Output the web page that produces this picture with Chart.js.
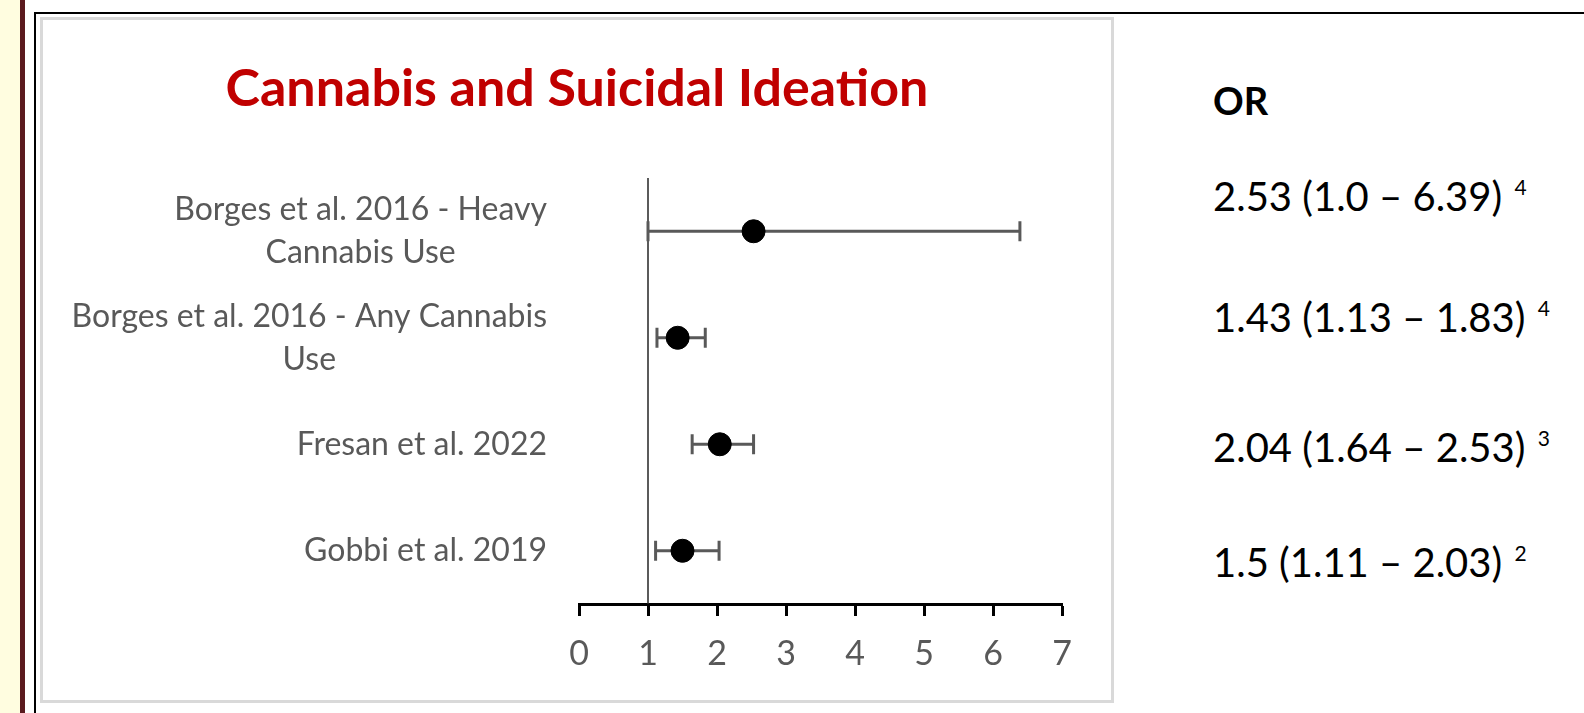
<!DOCTYPE html>
<html>
<head>
<meta charset="utf-8">
<script src="https://cdn.jsdelivr.net/npm/chart.js@4"></script>
<style>
html, body { margin: 0; padding: 0; width: 1584px; height: 713px; overflow: hidden; background: #fff; font-family: Lato, sans-serif; }
#cream { position: absolute; left: 0; top: 0; width: 20px; height: 713px; background: #FFFDE0; }
#strip { position: absolute; left: 20px; top: 0; width: 5px; height: 713px; background: #5B1A1E; }
#frame { position: absolute; left: 34px; top: 12px; width: 1700px; height: 900px; border: 2px solid #000; }
#box { position: absolute; left: 40px; top: 17px; width: 1068px; height: 680px; border: 3px solid #D9D9D9; background: #fff; }
#chart { display: block; }
.or { position: absolute; left: 1213px; font-size: 40px; line-height: 40px; color: #000; white-space: nowrap; }
.or.head { font-weight: bold; font-size: 38px; }
.or .ref { font-size: 21px; position: relative; top: -16px; margin-left: 2px; }
</style>
</head>
<body>
<div id="cream"></div>
<div id="strip"></div>
<div id="frame"></div>
<div id="box"><canvas id="chart" width="1068" height="680"></canvas></div>
<div id="orColumn"></div>

<script>
const TITLE = "Cannabis and Suicidal Ideation";
const categories = [
    ["Borges et al. 2016 - Heavy", "Cannabis Use"],
    ["Borges et al. 2016 - Any Cannabis", "Use"],
    ["Fresan et al. 2022"],
    ["Gobbi et al. 2019"]
];
const oddsRatio = [2.53, 1.43, 2.04, 1.5];
const ciLower = [1.0, 1.13, 1.64, 1.11];
const ciUpper = [6.39, 1.83, 2.53, 2.03];
const orText = ["2.53 (1.0 \u2013 6.39)", "1.43 (1.13 \u2013 1.83)", "2.04 (1.64 \u2013 2.53)", "1.5 (1.11 \u2013 2.03)"];
const refNumbers = ["4", "4", "3", "2"];
const xMin = 0, xMax = 7, xStep = 1;
const nullValue = 1;

// OR column on the right, outside the chart box
const OR_TOPS = [176, 297, 427, 542];
function display_or_column() {
    const col = document.getElementById("orColumn");
    const head = document.createElement("div");
    head.className = "or head";
    head.style.top = "80px";
    head.textContent = "OR";
    col.append(head);
    for (let i = 0; i < orText.length; i++) {
        const div = document.createElement("div");
        div.className = "or";
        div.style.top = OR_TOPS[i] + "px";
        div.append(orText[i] + " ");
        const sup = document.createElement("span");
        sup.className = "ref";
        sup.textContent = refNumbers[i];
        div.append(sup);
        col.append(div);
    }
}

// study names: block right-aligned, lines centred within block
const studyLabels = {
    id: "studyLabels",
    afterDraw(chart) {
        const ctx = chart.ctx;
        const yScale = chart.scales.y;
        const right = chart.chartArea.left - 32;
        const lineHeight = 43;
        ctx.save();
        ctx.font = "32px Lato";
        ctx.fillStyle = "#595959";
        ctx.textAlign = "center";
        ctx.textBaseline = "middle";
        categories.forEach((lines, i) => {
            const w = Math.max(...lines.map(l => ctx.measureText(l).width));
            const cx = right - w / 2;
            const cy = yScale.getPixelForValue(i);
            lines.forEach((line, j) => {
                ctx.fillText(line, cx, cy + (j - (lines.length - 1) / 2) * lineHeight);
            });
        });
        ctx.restore();
    }
};

function display_chart() {
    const datasets = [
        {
            type: "scatter",
            label: "OR",
            data: oddsRatio.map((v, i) => ({x: v, y: i})),
            backgroundColor: "#000",
            borderColor: "#000",
            borderWidth: 1,
            pointRadius: 11.5,
            order: 0
        },
        ...oddsRatio.map((v, i) => ({
            type: "line",
            label: "CI " + i,
            data: [{x: ciLower[i], y: i}, {x: ciUpper[i], y: i}],
            borderColor: "#595959",
            borderWidth: 3,
            pointStyle: "line",
            pointRotation: 90,
            pointRadius: 10,
            pointBorderWidth: 3,
            pointBorderColor: "#595959",
            order: 1
        })),
        {
            type: "line",
            label: "null",
            data: [{x: nullValue, y: -0.5}, {x: nullValue, y: categories.length - 0.5}],
            borderColor: "#262626",
            borderWidth: 1.5,
            pointRadius: 0,
            order: 2
        }
    ];

    new Chart(document.getElementById("chart"), {
        type: "scatter",
        data: {datasets: datasets},
        options: {
            responsive: false,
            animation: false,
            layout: {padding: 0},
            plugins: {
                legend: {display: false},
                tooltip: {enabled: false},
                title: {
                    display: true,
                    text: TITLE,
                    color: "#C00000",
                    font: {family: "Lato", size: 52, weight: "bold"},
                    padding: {top: 38, bottom: 57.6}
                }
            },
            scales: {
                x: {
                    type: "linear",
                    min: xMin,
                    max: xMax,
                    ticks: {stepSize: xStep, color: "#595959", font: {family: "Lato", size: 34}, padding: 18},
                    grid: {drawOnChartArea: false, drawTicks: true, tickLength: 12, tickWidth: 3, tickColor: "#000"},
                    border: {display: true, color: "#000", width: 3},
                    afterFit: s => { s.height = 96; }
                },
                y: {
                    type: "linear",
                    reverse: true,
                    min: -0.5,
                    max: categories.length - 0.5,
                    ticks: {display: false},
                    grid: {display: false},
                    border: {display: false},
                    afterFit: s => { s.width = 536; }
                },
                y2: {
                    type: "linear",
                    position: "right",
                    ticks: {display: false},
                    grid: {display: false},
                    border: {display: false},
                    afterFit: s => { s.width = 49; }
                }
            }
        },
        plugins: [studyLabels]
    });
}

display_or_column();
display_chart();
</script>
</body>
</html>
